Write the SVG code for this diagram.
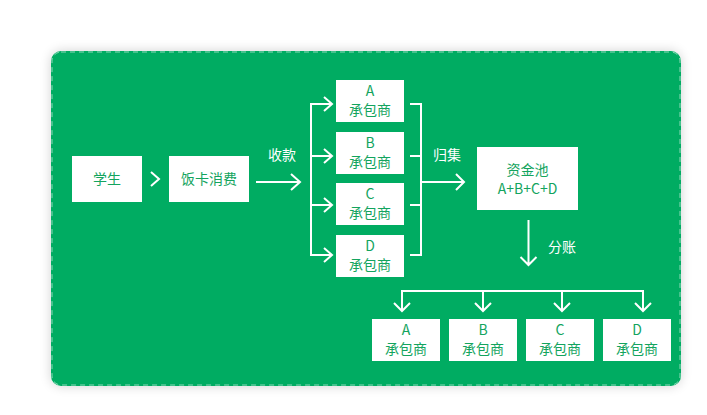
<svg xmlns="http://www.w3.org/2000/svg" width="707" height="415" viewBox="0 0 707 415">
<defs>
<filter id="sh" x="-10%" y="-10%" width="120%" height="120%">
<feGaussianBlur in="SourceAlpha" stdDeviation="6"/>
<feComponentTransfer><feFuncA type="linear" slope="0.18"/></feComponentTransfer>
<feMerge><feMergeNode/><feMergeNode in="SourceGraphic"/></feMerge>
</filter>
</defs>
<style>
.box{fill:#ffffff}
.t{font-family:"Noto Sans CJK SC","Noto Sans",sans-serif;font-size:14px;fill:#13a45e;text-anchor:middle}
.w{font-family:"Noto Sans CJK SC","Noto Sans",sans-serif;font-size:14px;fill:#ffffff;text-anchor:middle}
.ln{fill:none;stroke:#ffffff;stroke-width:2;stroke-linecap:butt;stroke-linejoin:miter}
</style>
<rect width="707" height="415" fill="#ffffff"/>
<rect x="51" y="51" width="630" height="335" rx="10" fill="#00ac62" filter="url(#sh)"/>
<rect x="52" y="52" width="628" height="333" rx="9" fill="none" stroke="#ffffff" stroke-opacity="0.55" stroke-width="1" stroke-dasharray="5,4"/>

<g id="student"><rect class="box" x="72" y="156" width="70" height="46"/><text class="t" x="107" y="184">学生</text></g>
<g id="card"><rect class="box" x="169" y="156" width="80" height="46"/><text class="t" x="209" y="184">饭卡消费</text></g>

<g id="contractorA"><rect class="box" x="336" y="80" width="68" height="42"/><text class="t" x="370" y="96">A</text><text class="t" x="370" y="115">承包商</text></g>
<g id="contractorB"><rect class="box" x="336" y="132" width="68" height="42"/><text class="t" x="370" y="148">B</text><text class="t" x="370" y="167">承包商</text></g>
<g id="contractorC"><rect class="box" x="336" y="183" width="68" height="42"/><text class="t" x="370" y="199">C</text><text class="t" x="370" y="218">承包商</text></g>
<g id="contractorD"><rect class="box" x="336" y="235" width="68" height="42"/><text class="t" x="370" y="251">D</text><text class="t" x="370" y="270">承包商</text></g>

<g id="pool"><rect class="box" x="477" y="147" width="101" height="63"/><text class="t" x="527.5" y="175">资金池</text><text class="t" x="527.5" y="194">A+B+C+D</text></g>

<g id="outA"><rect class="box" x="372" y="319" width="68" height="42"/><text class="t" x="406" y="335">A</text><text class="t" x="406" y="354">承包商</text></g>
<g id="outB"><rect class="box" x="449" y="319" width="68" height="42"/><text class="t" x="483" y="335">B</text><text class="t" x="483" y="354">承包商</text></g>
<g id="outC"><rect class="box" x="526" y="319" width="68" height="42"/><text class="t" x="560" y="335">C</text><text class="t" x="560" y="354">承包商</text></g>
<g id="outD"><rect class="box" x="603" y="319" width="68" height="42"/><text class="t" x="637" y="335">D</text><text class="t" x="637" y="354">承包商</text></g>

<g id="connectors">
<path class="ln" d="M151 172 L159 179 L151 186"/>
<path class="ln" d="M256 182 H300 M291 174 L300 182 L291 190"/>
<text class="w" x="282" y="160">收款</text>
<path class="ln" d="M331 104 H311 V255 H331 M311 156 H331 M311 205 H331"/>
<path class="ln" d="M324 97 L332 104 L324 111 M324 149 L332 156 L324 163 M324 198 L332 205 L324 212 M324 248 L332 255 L324 262"/>
<path class="ln" d="M410 104 H421 V255 H410 M410 156 H421 M410 205 H421 M421 182 H464"/>
<path class="ln" d="M456 174 L464 182 L456 190"/>
<text class="w" x="447" y="160">归集</text>
<path class="ln" d="M528.5 220 V265 M520.5 257 L528.5 265 L536.5 257"/>
<text class="w" x="562" y="252">分账</text>
<path class="ln" d="M402 311 V291 H643 V311 M483 291 V311 M562 291 V311"/>
<path class="ln" d="M394 303 L402 311 L410 303 M475 303 L483 311 L491 303 M554 303 L562 311 L570 303 M635 303 L643 311 L651 303"/>
</g>
</svg>
